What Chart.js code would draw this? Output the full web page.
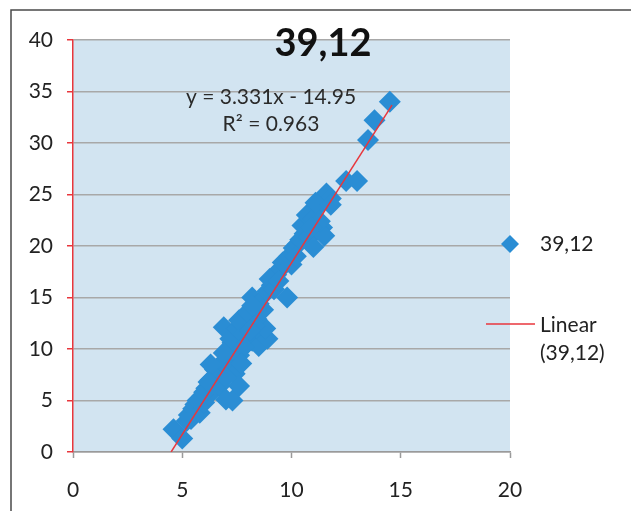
<!DOCTYPE html>
<html>
<head>
<meta charset="utf-8">
<style>
  html, body { margin: 0; padding: 0; background: #ffffff; }
  #wrap { width: 631px; height: 511px; position: relative; }
  canvas { display: block; }
</style>
<script src="https://cdn.jsdelivr.net/npm/chart.js@4"></script>
</head>
<body>
<div id="wrap"><canvas id="c" width="631" height="511"></canvas></div>
<script>
// ---- data ----
const seriesName = "39,12";
const trendName = ["Linear", "(39,12)"];
const xValues = [4.6, 5.0, 5.2, 5.3, 5.5, 5.6, 5.8, 5.9, 6.0, 6.1, 6.2, 6.3, 6.4, 6.5, 6.6, 6.7, 6.8, 6.9, 7.0, 7.3,
                 7.0, 7.2, 7.4, 7.6, 7.1, 7.3, 6.9, 7.2, 7.5, 7.6, 7.8, 8.0, 8.2, 8.5, 8.6, 8.9, 8.8, 8.4, 8.0, 8.2,
                 8.5, 8.7, 8.9, 9.1, 9.3, 9.5, 9.8, 9.6, 9.9, 10.1, 10.3, 10.0, 10.4, 10.6, 10.5, 10.8, 11.0, 11.2, 11.4, 11.5,
                 10.7, 11.0, 11.2, 11.4, 11.6, 11.8, 11.3, 12.5, 13.0, 13.5, 13.8, 14.5, 6.3, 8.2, 9.0,
                 5.4, 5.7, 6.0, 6.5, 7.0, 7.6, 7.8, 8.3, 9.2, 9.4, 10.2, 10.9, 11.1, 11.8, 6.2, 6.9, 7.7, 8.1];
const yValues = [2.2, 1.3, 3.0, 3.6, 4.2, 4.6, 3.8, 5.4, 4.8, 6.2, 5.5, 7.0, 6.0, 8.0, 7.4, 6.4, 6.9, 8.6, 5.1, 5.0,
                 9.0, 8.0, 7.6, 6.4, 9.8, 10.6, 12.1, 11.0, 12.0, 12.8, 11.4, 10.6, 10.8, 10.3, 11.6, 11.0, 12.0, 12.9, 13.6, 15.0,
                 14.4, 13.8, 15.6, 16.2, 17.2, 17.8, 15.0, 18.4, 19.0, 19.8, 20.2, 18.2, 20.6, 21.2, 22.0, 20.9, 19.9, 21.6, 21.8, 21.0,
                 23.0, 22.6, 23.8, 24.4, 25.1, 24.6, 22.4, 26.3, 26.3, 30.3, 32.2, 34.0, 8.5, 14.2, 16.8,
                 3.2, 5.0, 5.8, 6.6, 7.2, 9.4, 10.2, 12.2, 15.8, 16.6, 19.0, 21.8, 24.2, 24.0, 6.8, 9.6, 8.6, 11.8];
const trendSlope = 3.331;
const trendIntercept = -14.95;
const trendXRange = [4.49, 14.6];
const equationLines = ["y = 3.331x - 14.95", "R\u00B2 = 0.963"];
const xTicks = [0, 5, 10, 15, 20];
const yTicks = [0, 5, 10, 15, 20, 25, 30, 35, 40];

// ---- build ----
const FONT = "Lato, 'Open Sans', sans-serif";
const BLUE = "#2a8dd4";
const RED = "#e8363c";
const points = xValues.map((x, i) => ({ x: x, y: yValues[i] }));
const trend = trendXRange.map(x => ({ x: x, y: trendSlope * x + trendIntercept }));

const decor = {
  id: "decor",
  beforeDraw(chart) {
    const { ctx, chartArea: a } = chart;
    ctx.save();
    ctx.fillStyle = "#d2e4f1";
    ctx.fillRect(a.left, a.top, a.right - a.left, a.bottom - a.top);
    ctx.restore();
  },
  afterDraw(chart) {
    const ctx = chart.ctx;
    ctx.save();
    // frame
    ctx.strokeStyle = "#4a4a4a";
    ctx.lineWidth = 1.5;
    ctx.beginPath();
    ctx.moveTo(11, 511);
    ctx.lineTo(11, 10);
    ctx.lineTo(631, 10);
    ctx.stroke();
    // title
    ctx.fillStyle = "#111";
    ctx.textAlign = "center";
    ctx.textBaseline = "middle";
    ctx.font = "bold 38px " + FONT;
    ctx.fillText(seriesName, 323, 44);
    // equation
    ctx.fillStyle = "#2a2a2a";
    ctx.font = "21px " + FONT;
    ctx.fillText(equationLines[0], 271, 97);
    ctx.fillText(equationLines[1], 271, 124);
    // legend
    const lx = 510, ly = 244, r = 9;
    ctx.fillStyle = BLUE;
    ctx.beginPath();
    ctx.moveTo(lx, ly - r); ctx.lineTo(lx + r, ly); ctx.lineTo(lx, ly + r); ctx.lineTo(lx - r, ly);
    ctx.closePath();
    ctx.fill();
    ctx.fillStyle = "#222";
    ctx.textAlign = "left";
    ctx.font = "21px " + FONT;
    ctx.fillText(seriesName, 540, 244);
    ctx.strokeStyle = RED;
    ctx.lineWidth = 1.5;
    ctx.beginPath();
    ctx.moveTo(486, 324); ctx.lineTo(535, 324);
    ctx.stroke();
    ctx.fillText(trendName[0], 540, 325);
    ctx.fillText(trendName[1], 540, 353);
    ctx.restore();
  }
};

new Chart(document.getElementById("c"), {
  data: {
    datasets: [
      {
        type: "line",
        label: trendName.join(" "),
        data: trend,
        borderColor: RED,
        borderWidth: 1.5,
        pointRadius: 0,
        fill: false,
        order: 0
      },
      {
        type: "scatter",
        label: seriesName,
        data: points,
        pointStyle: "rectRot",
        pointRadius: 11,
        pointHoverRadius: 11,
        backgroundColor: BLUE,
        borderColor: BLUE,
        borderWidth: 0,
        order: 1
      }
    ]
  },
  options: {
    responsive: false,
    animation: false,
    events: [],
    layout: { padding: { left: 0, top: 40, right: 121, bottom: 0 } },
    plugins: { legend: { display: false }, title: { display: false }, tooltip: { enabled: false } },
    scales: {
      x: {
        type: "linear",
        min: xTicks[0],
        max: xTicks[xTicks.length - 1],
        afterBuildTicks: ax => { ax.ticks = xTicks.map(v => ({ value: v })); },
        afterFit: ax => { ax.height = 59; },
        grid: { drawOnChartArea: false, drawTicks: true, tickLength: 6, tickColor: "#9a9a9a", tickWidth: 1.5 },
        border: { color: "#9a9a9a", width: 1.5 },
        ticks: { font: { family: FONT, size: 21 }, color: "#222", padding: 20, maxRotation: 0 }
      },
      y: {
        type: "linear",
        min: yTicks[0],
        max: yTicks[yTicks.length - 1],
        afterBuildTicks: ax => { ax.ticks = yTicks.map(v => ({ value: v })); },
        afterFit: ax => { ax.width = 73; },
        grid: { color: "#a8a8a8", lineWidth: 1.5, drawTicks: true, tickLength: 6, tickColor: RED, tickWidth: 1.5 },
        border: { color: RED, width: 1.5 },
        ticks: { font: { family: FONT, size: 21 }, color: "#222", padding: 14 }
      }
    }
  },
  plugins: [decor]
});
</script>
</body>
</html>
